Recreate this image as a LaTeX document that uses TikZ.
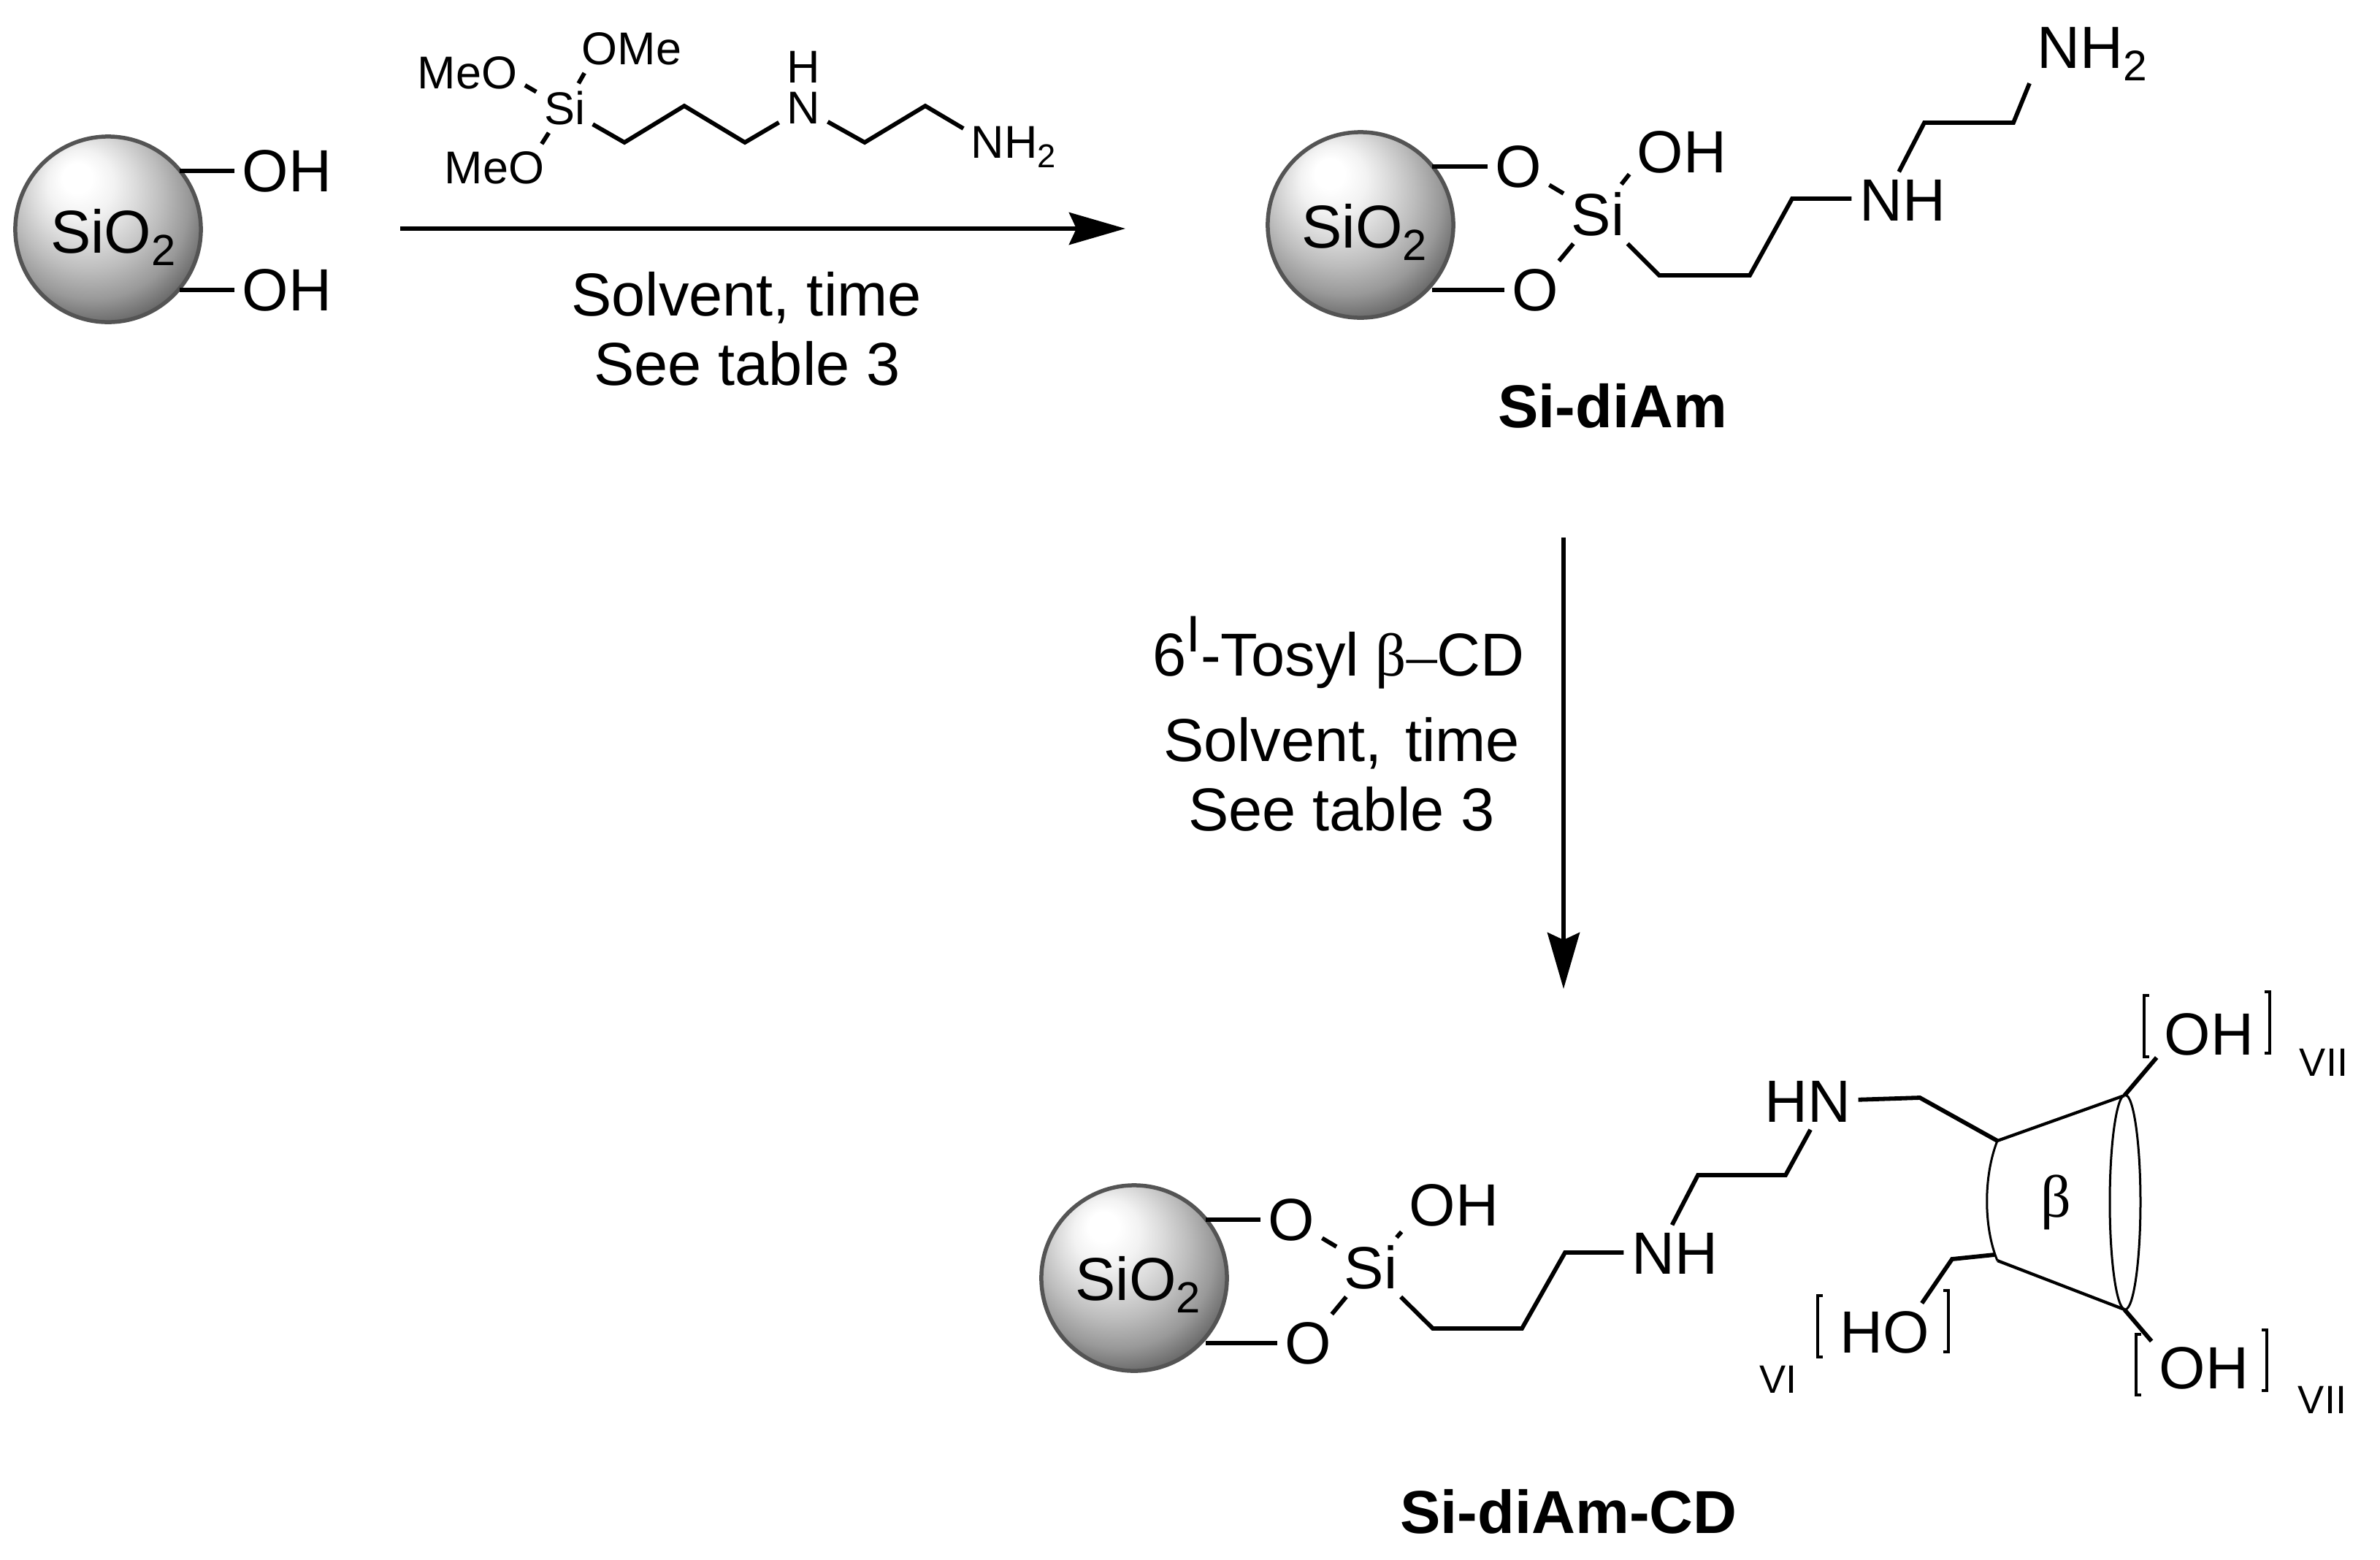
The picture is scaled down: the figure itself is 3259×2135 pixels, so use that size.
\documentclass[tikz,border=0pt]{standalone}
\usepackage{fontspec}
\usepackage{graphicx}
\setmainfont{Liberation Sans}
\newfontfamily\greekfont{Liberation Serif}
\usetikzlibrary{arrows.meta, positioning, shapes}

\pgfdeclareradialshading{silicashade}{\pgfpoint{-9bp}{15bp}}{%
  color(0bp)=(white); color(4bp)=(white); color(9bp)=(white!95!black);
  color(14bp)=(white!86!black); color(20bp)=(white!74!black); color(26bp)=(white!60!black);
  color(31bp)=(white!42!black); color(50bp)=(white!30!black)}

% Lowered and raised small characters in the current font
\newcommand{\lowtwo}{\raisebox{-0.21em}{\scalebox{0.72}{2}}}
\newcommand{\highone}{\raisebox{0.39em}{\scalebox{0.85}{I}}}

\begin{document}
\begin{tikzpicture}[
    x=0.01cm, y=-0.01cm,
    % Define node styles
    silica/.style={circle, draw=white!33!black, line width=0.055cm, shading=silicashade,
                   minimum size=2.54cm, inner sep=0pt},
    atom/.style={inner sep=0.1cm, font=\fontsize{23.2}{28}\selectfont},
    reagent/.style={inner sep=0.1cm, font=\fontsize{17.9}{21}\selectfont},
    caption/.style={anchor=base, inner sep=0pt, font=\fontsize{23.6}{28}\selectfont},
    compound/.style={anchor=base, inner sep=0pt, font=\fontsize{23.6}{28}\selectfont\bfseries},
    repeats/.style={inner sep=0pt, font=\fontsize{15.4}{18}\selectfont},
    bond/.style={line width=0.058cm},
    ring/.style={line width=0.042cm},
    rim/.style={line width=0.03cm},
    bracket/.style={line width=0.045cm},
    rarrow/.style={line width=0.06cm, -{Stealth[length=0.77cm, width=0.44cm, inset=0.1cm]}}
]
    \useasboundingbox (0,0) rectangle (3259,2135);

    % Starting silica
    \node[silica] (ball1) at (148,314) {};
    \node[caption] (sio1) at (155,346) {SiO\lowtwo};
    \node[atom] (oh1) at (393,234) {OH};
    \node[atom] (oh2) at (393,397) {OH};
    \draw[bond] (ball1.41 |- oh1) -- (oh1);
    \draw[bond] (ball1.-41 |- oh2) -- (oh2);

    % Silane reagent
    \node[reagent] (rSi) at (773,148) {Si};
    \node[reagent] (rMeOa) at (640,100) {MeO};
    \node[reagent] (rOMe) at (865,67) {OMe};
    \node[reagent] (rMeOb) at (677,230) {MeO};
    \node[reagent] (rN) at (1100,148) {N};
    \node[reagent, inner sep=0pt] (rH) at (1100,92) {H};
    \node[reagent] (rNHtwo) at (1388,201) {NH\lowtwo};
    \coordinate (r1) at (855,195);
    \coordinate (r2) at (937,145);
    \coordinate (r3) at (1020,195);
    \coordinate (r4) at (1184,195);
    \coordinate (r5) at (1267,145);
    \draw[bond] (rSi) -- (rMeOa.-12);
    \draw[bond] (rSi) -- (rOMe.207);
    \draw[bond] (rSi) -- (rMeOb.27);
    \draw[bond] (rSi) -- (r1) -- (r2) -- (r3) -- (rN);
    \draw[bond] (rN) -- (r4) -- (r5) -- (rNHtwo.160);

    % First arrow
    \coordinate (arrowAs) at (548,313);
    \coordinate (arrowAe) at (1541,313);
    \draw[rarrow] (arrowAs) -- (arrowAe);
    \node[caption] (solventA) at (1022,432) {Solvent, time};
    \node[caption] (tableA) at (1023,527) {See table 3};

    % Si-diAm
    \node[silica] (ball2) at (1863,308) {};
    \node[caption] (sio2) at (1868,339) {SiO\lowtwo};
    \node[atom] (mOa) at (2079,228) {O};
    \node[atom] (mOb) at (2102,397) {O};
    \node[atom] (mSi) at (2188,293) {Si};
    \node[atom] (mOH) at (2303,208) {OH};
    \node[atom] (mNH) at (2605,274) {NH};
    \node[atom] (mNHtwo) at (2865,74) {NH\lowtwo};
    \coordinate (m1) at (2272,377);
    \coordinate (m2) at (2396,377);
    \coordinate (m3) at (2454,272);
    \coordinate (m4) at (2635,168);
    \coordinate (m5) at (2757,168);
    \draw[bond] (ball2.41 |- mOa) -- (mOa);
    \draw[bond] (ball2.-41 |- mOb) -- (mOb);
    \draw[bond] (mOa) -- (mSi);
    \draw[bond] (mOb) -- (mSi);
    \draw[bond] (mSi) -- (mOH.203);
    \draw[bond] (mSi) -- (m1) -- (m2) -- (m3) -- (m3 -| mNH.west);
    \draw[bond] (mNH.97) -- (m4) -- (m5) -- (mNHtwo.205);
    \node[compound] (nameA) at (2208,585) {Si-diAm};

    % Second arrow
    \coordinate (arrowBs) at (2141,736);
    \coordinate (arrowBe) at (2141,1354);
    \draw[rarrow] (arrowBs) -- (arrowBe);
    \node[caption] (tosyl) at (1833,925) {6\highone-Tosyl {\greekfont β–}CD};
    \node[caption] (solventB) at (1837,1042) {Solvent,\hspace{0.1em} time};
    \node[caption] (tableB) at (1837,1137) {See table 3};

    % Si-diAm-CD
    \node[silica] (ball3) at (1553,1750) {};
    \node[caption] (sio3) at (1558,1780) {SiO\lowtwo};
    \node[atom] (bOa) at (1768,1670) {O};
    \node[atom] (bOb) at (1791,1839) {O};
    \node[atom] (bSi) at (1877,1735) {Si};
    \node[atom] (bOH) at (1991,1650) {OH};
    \node[atom] (bNH) at (2293,1716) {NH};
    \node[atom] (bHN) at (2475,1508) {HN};
    \coordinate (b1) at (1962,1819);
    \coordinate (b2) at (2084,1819);
    \coordinate (b3) at (2143,1715);
    \coordinate (b4) at (2325,1609);
    \coordinate (b5) at (2445,1609);
    \coordinate (b6) at (2629,1503);
    \draw[bond] (ball3.41 |- bOa) -- (bOa);
    \draw[bond] (ball3.-41 |- bOb) -- (bOb);
    \draw[bond] (bOa) -- (bSi);
    \draw[bond] (bOb) -- (bSi);
    \draw[bond] (bSi) -- (bOH.207);
    \draw[bond] (bSi) -- (b1) -- (b2) -- (b3) -- (b3 -| bNH.west);
    \draw[bond] (bNH.95) -- (b4) -- (b5) -- (bHN.-84);
    \node[compound] (nameB) at (2148,2099) {Si-diAm-CD};

    % Cyclodextrin cone
    \coordinate (cA) at (2735,1562);
    \coordinate (cB) at (2909,1500);
    \coordinate (cC) at (2909,1793);
    \coordinate (cD) at (2735,1726);
    \coordinate (cE) at (2731,1718);
    \coordinate (c1) at (2673,1724);
    \draw[bond] (bHN) -- (b6) -- (cA);
    \draw[ring] (cA) -- (cB);
    \draw[ring] (cD) -- (cC);
    \draw[rim] (cA) .. controls (2716,1610) and (2716,1680) .. (cD);
    \draw[rim] (2910,1646) ellipse (21 and 147);
    \node[inner sep=0pt, font=\fontsize{23.3}{28}\selectfont\greekfont] (beta) at (2815,1646) {β};

    % Hydroxyl groups on the cone
    \node[atom] (cOHa) at (3025,1416) {OH};
    \node[atom] (cHO) at (2581,1824) {HO};
    \node[atom] (cOHb) at (3018,1873) {OH};
    \draw[bond] (cB) -- (cOHa.204);
    \draw[bond] (cE) -- (c1) -- (cHO.38);
    \draw[bond] (cC) -- (cOHb.153);

    % Brackets and repeat counts
    \draw[bracket] (2943,1363) -- (2936,1363) -- (2936,1447) -- (2943,1447);
    \draw[bracket] (3101,1358) -- (3108,1358) -- (3108,1442) -- (3101,1442);
    \draw[bracket] (2496,1774) -- (2489,1774) -- (2489,1858) -- (2496,1858);
    \draw[bracket] (2661,1767) -- (2668,1767) -- (2668,1851) -- (2661,1851);
    \draw[bracket] (2932,1827) -- (2925,1827) -- (2925,1910) -- (2932,1910);
    \draw[bracket] (3097,1821) -- (3104,1821) -- (3104,1904) -- (3097,1904);
    \node[repeats] (sevenA) at (3182,1455) {VII};
    \node[repeats] (six) at (2435,1889) {VI};
    \node[repeats] (sevenB) at (3180,1917) {VII};
\end{tikzpicture}
\end{document}
